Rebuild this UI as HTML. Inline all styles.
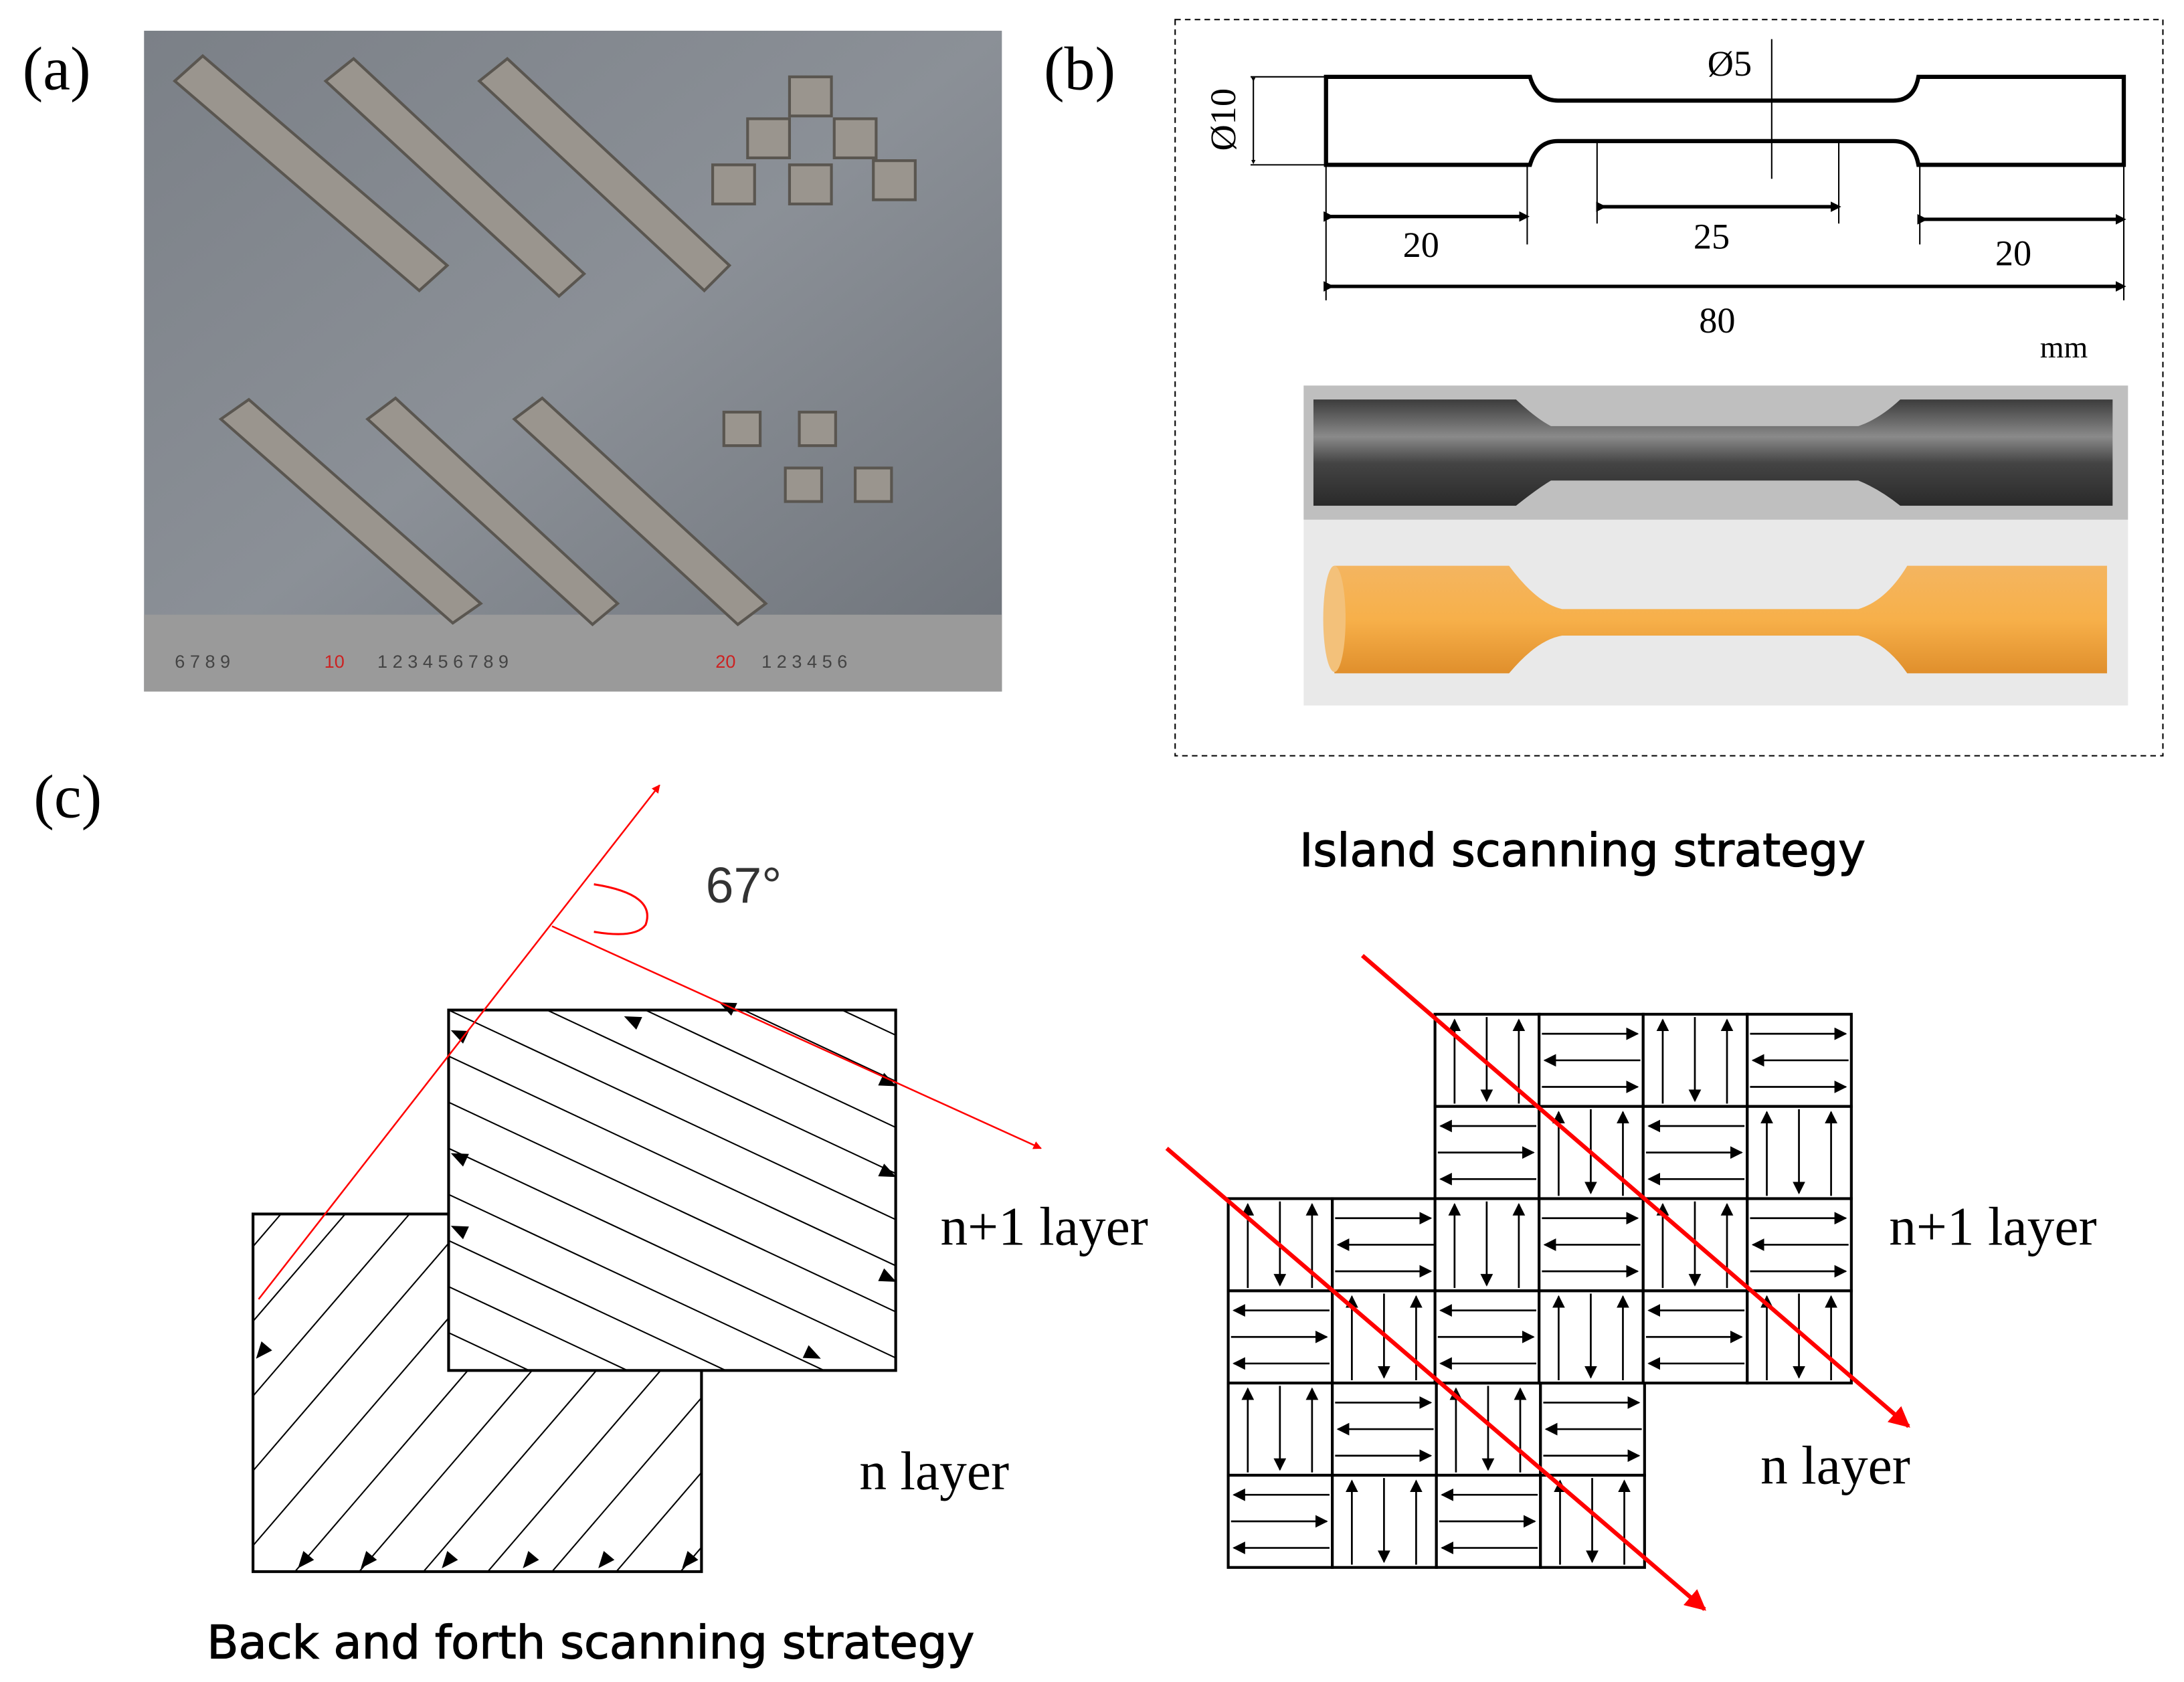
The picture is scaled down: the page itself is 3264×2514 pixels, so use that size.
<!DOCTYPE html>
<html><head><meta charset="utf-8"><style>
html,body{margin:0;padding:0;background:#fff;}
svg{display:block;}
</style></head><body>
<svg id="s" width="3264" height="2514" viewBox="0 0 1563 1204" xmlns="http://www.w3.org/2000/svg">
<defs>
<marker id="ab" viewBox="0 0 10 10" refX="9" refY="5" markerWidth="9" markerHeight="9" orient="auto" markerUnits="userSpaceOnUse"><path d="M0,0L10,5L0,10z" fill="#000"/></marker>
<marker id="ar" viewBox="0 0 10 10" refX="9" refY="5" markerWidth="5" markerHeight="5" orient="auto"><path d="M0,0L10,5L0,10z" fill="#f00"/></marker>
<marker id="ad" viewBox="0 0 10 10" refX="5" refY="5" markerWidth="3" markerHeight="3" orient="auto"><path d="M0,0L10,5L0,10z" fill="#000"/></marker>
<linearGradient id="met" x1="0" y1="0" x2="0" y2="1"><stop offset="0" stop-color="#3c3c3c"/><stop offset=".35" stop-color="#8a8a8a"/><stop offset=".6" stop-color="#444"/><stop offset="1" stop-color="#2a2a2a"/></linearGradient>
<linearGradient id="org" x1="0" y1="0" x2="0" y2="1"><stop offset="0" stop-color="#f4b560"/><stop offset=".5" stop-color="#f7b04a"/><stop offset="1" stop-color="#e08f2c"/></linearGradient>
<linearGradient id="bgp" x1="0" y1="0" x2="1" y2="1"><stop offset="0" stop-color="#7b8087"/><stop offset=".5" stop-color="#8b9097"/><stop offset="1" stop-color="#6d7279"/></linearGradient>
</defs>
<g font-family="Liberation Serif, serif">
<text x="16" y="64" font-size="44">(a)</text>
<text x="747" y="64" font-size="44">(b)</text>
<text x="24" y="585" font-size="44">(c)</text>
</g>
<rect x="103" y="22" width="614" height="473" fill="url(#bgp)"/>
<rect x="103" y="440" width="614" height="55" fill="#9a9a9a"/>
<g fill="#9a958e" stroke="#5a5650" stroke-width="2">
<polygon points="125,58 145,40 320,190 300,208"/>
<polygon points="233,58 253,42 418,196 400,212"/>
<polygon points="343,58 363,42 522,190 504,208"/>
<polygon points="158,300 178,286 344,432 324,446"/>
<polygon points="263,300 283,285 442,432 424,447"/>
<polygon points="368,300 388,285 548,432 528,447"/>
<rect x="565" y="55" width="30" height="28"/><rect x="535" y="85" width="30" height="28"/><rect x="597" y="85" width="30" height="28"/>
<rect x="510" y="118" width="30" height="28"/><rect x="565" y="118" width="30" height="28"/><rect x="625" y="115" width="30" height="28"/>
<rect x="518" y="295" width="26" height="24"/><rect x="572" y="295" width="26" height="24"/><rect x="562" y="335" width="26" height="24"/><rect x="612" y="335" width="26" height="24"/>
</g>
<g font-family="Liberation Sans, sans-serif" font-size="13" fill="#444"><text x="125" y="478">6  7  8  9</text><text x="232" y="478" fill="#c22">10</text><text x="270" y="478">1  2  3  4  5  6  7  8  9</text><text x="512" y="478" fill="#c22">20</text><text x="545" y="478">1  2  3  4  5  6</text></g>
<rect x="841" y="14" width="707" height="527" fill="none" stroke="#000" stroke-width="1" stroke-dasharray="4,3"/>
<path d="M949,55 H1095 Q1100,72 1115,72 H1355 Q1370,72 1373,55 H1520 V118 H1373 Q1370,101 1355,101 H1115 Q1100,101 1095,118 H949 Z" fill="none" stroke="#000" stroke-width="3"/>
<g stroke="#000" stroke-width="1" fill="none">
<line x1="895" y1="55" x2="949" y2="55"/><line x1="895" y1="118" x2="949" y2="118"/>
<line x1="897" y1="57" x2="897" y2="116" marker-start="url(#ad)" marker-end="url(#ad)"/>
<line x1="1268" y1="28" x2="1268" y2="128"/>
<line x1="949" y1="118" x2="949" y2="215"/><line x1="1093" y1="118" x2="1093" y2="175"/>
<line x1="1143" y1="102" x2="1143" y2="160"/><line x1="1316" y1="102" x2="1316" y2="160"/>
<line x1="1374" y1="118" x2="1374" y2="175"/><line x1="1520" y1="118" x2="1520" y2="215"/>
</g>
<g stroke="#000" stroke-width="2.5">
<line x1="951" y1="155" x2="1091" y2="155" marker-start="url(#ad)" marker-end="url(#ad)"/>
<line x1="1146" y1="148" x2="1314" y2="148" marker-start="url(#ad)" marker-end="url(#ad)"/>
<line x1="1376" y1="157" x2="1518" y2="157" marker-start="url(#ad)" marker-end="url(#ad)"/>
<line x1="951" y1="205" x2="1518" y2="205" marker-start="url(#ad)" marker-end="url(#ad)"/>
</g>
<g font-family="Liberation Serif, serif" font-size="26">
<text x="1004" y="184">20</text><text x="1212" y="178">25</text><text x="1428" y="190">20</text><text x="1216" y="238">80</text>
<text x="1460" y="256" font-size="22">mm</text><text x="1222" y="54">Ø5</text>
<text transform="translate(884,108) rotate(-90)">Ø10</text>
</g>
<rect x="933" y="276" width="590" height="229" fill="#e9e9e9"/>
<rect x="933" y="276" width="590" height="96" fill="#bfbfbf"/>
<path d="M940,286 H1085 Q1100,300 1110,305 H1330 Q1345,300 1360,286 H1512 V362 H1360 Q1345,350 1330,344 H1110 Q1100,350 1085,362 H940 Z" fill="url(#met)"/>
<path d="M955,405 H1080 Q1100,432 1118,436 H1330 Q1350,430 1365,405 H1508 V482 H1365 Q1350,460 1330,455 H1118 Q1100,458 1080,482 H955 Z" fill="url(#org)"/>
<ellipse cx="955" cy="443" rx="8" ry="38" fill="#f3c17a"/>
<text x="930" y="620" font-family="DejaVu Sans, sans-serif" font-size="33" stroke="#000" stroke-width="0.6">Island scanning strategy</text>
<text x="148" y="1187" font-family="DejaVu Sans, sans-serif" font-size="33" stroke="#000" stroke-width="0.6">Back and forth scanning strategy</text>
<text x="505" y="646" font-family="Liberation Sans, sans-serif" font-size="36" fill="#333">67°</text>
<g font-family="Liberation Serif, serif" font-size="39">
<text x="673" y="891">n+1 layer</text><text x="615" y="1066">n layer</text>
<text x="1352" y="891">n+1 layer</text><text x="1260" y="1062">n layer</text>
</g>
<g id="left"></g>
<g id="grid"></g>
<g stroke="#f00" fill="none">
<line x1="185" y1="930" x2="472" y2="562" stroke-width="1.2" marker-end="url(#ar)"/>
<line x1="395" y1="663" x2="745" y2="822" stroke-width="1.2" marker-end="url(#ar)"/>
<path d="M425,633 Q470,640 462,662 Q455,672 425,667" stroke-width="1.5"/>
<line x1="975" y1="684" x2="1366" y2="1021" stroke-width="3" marker-end="url(#ar)"/>
<line x1="835" y1="822" x2="1220" y2="1152" stroke-width="3" marker-end="url(#ar)"/>
</g>
</svg>
<script>
var NS="http://www.w3.org/2000/svg";
function el(p,t,a){var e=document.createElementNS(NS,t);for(var k in a)e.setAttribute(k,a[k]);p.appendChild(e);return e;}
function tri(p,x,y,ang){var g=el(p,'path',{d:'M6,0L-6,-5L-6,5z',fill:'#000',transform:'translate('+x+','+y+') rotate('+ang+')'});}
var L=document.getElementById('left');
el(L,'rect',{x:181,y:869,width:321,height:256,fill:'#fff',stroke:'#000','stroke-width':2});
var cp=el(L,'clipPath',{id:'c1'});el(cp,'rect',{x:181,y:869,width:321,height:256});
var g1=el(L,'g',{'clip-path':'url(#c1)',stroke:'#000','stroke-width':1});
for(var i=0;i<14;i++){var x0=181-200+i*46;el(g1,'line',{x1:x0,y1:1125,x2:x0+220,y2:869});}
[[187,968],[217,1118],[262,1118],[320,1118],[378,1118],[432,1118],[492,1118]].forEach(function(p){tri(L,p[0],p[1],130);});
el(L,'rect',{x:321,y:723,width:320,height:258,fill:'#fff',stroke:'#000','stroke-width':2});
var cp2=el(L,'clipPath',{id:'c2'});el(cp2,'rect',{x:321,y:723,width:320,height:258});
var g2=el(L,'g',{'clip-path':'url(#c2)',stroke:'#000','stroke-width':1});
for(var i=-4;i<10;i++){var y0=723+i*33;el(g2,'line',{x1:321,y1:y0,x2:641,y2:y0+150});}
[[452,730,205],[520,720,205],[328,740,205],[328,828,205],[328,880,205]].forEach(function(p){tri(L,p[0],p[1],p[2]);});
[[636,775,25],[636,840,25],[636,915,25],[582,970,25]].forEach(function(p){tri(L,p[0],p[1],p[2]);});
var G=document.getElementById('grid');
function block(x0,y0,skip){
 var w=74.5,h=66;
 for(var r=0;r<4;r++)for(var c=0;c<4;c++){
  if(skip&&skip(r,c))continue;
  var x=x0+c*w,y=y0+r*h;
  el(G,'rect',{x:x,y:y,width:w,height:h,fill:'#fff',stroke:'#000','stroke-width':2});
  var vert=((r+c)%2==0);
  for(var k=0;k<3;k++){
   if(vert){var xx=x+14+k*23;var up=(k%2==0);
    el(G,'line',{x1:xx,y1:up?y+h-2:y+2,x2:xx,y2:up?y+4:y+h-4,stroke:'#000','stroke-width':1.3,'marker-end':'url(#ab)'});}
   else{var yy=y+14+k*19;var rt=((k+r)%2==0);
    el(G,'line',{x1:rt?x+2:x+w-2,y1:yy,x2:rt?x+w-4:x+4,y2:yy,stroke:'#000','stroke-width':1.3,'marker-end':'url(#ab)'});}
  }
 }
}
block(879,858,function(r,c){return r<2&&c>=2;});
block(1027,726,null);
</script>
</body></html>
